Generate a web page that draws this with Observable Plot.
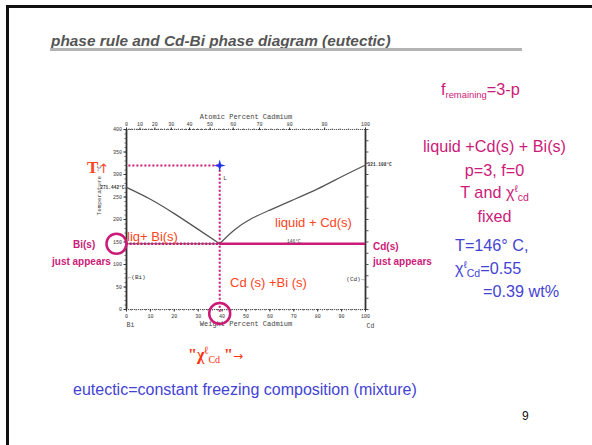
<!DOCTYPE html>
<html>
<head>
<meta charset="utf-8">
<script src="https://cdn.jsdelivr.net/npm/d3@7"></script>
<script src="https://cdn.jsdelivr.net/npm/@observablehq/plot@0.6"></script>
<style>
  html, body { margin: 0; padding: 0; background: #fff; }
  #slide { position: relative; width: 592px; height: 445px; overflow: hidden; }
  #slide > svg { position: absolute; left: 0; top: 0; }
</style>
</head>
<body>
<div id="slide"></div>
<script>
// Cd–Bi binary phase diagram (temperature vs weight percent cadmium)

// axis ticks
const weightTicks = [0, 10, 20, 30, 40, 50, 60, 70, 80, 90, 100];
const temperatureTicks = [0, 50, 100, 150, 200, 250, 300, 350, 400];
const atomicTicks = [0, 10, 20, 30, 40, 50, 60, 70, 80, 90, 100];

// molar masses used to place the atomic-percent scale on the weight axis
const MOLAR_CD = 112.41;
const MOLAR_BI = 208.98;
const atomicToWeight = (a) => (100 * a * MOLAR_CD) / (a * MOLAR_CD + (100 - a) * MOLAR_BI);

// liquidus curves (wt % Cd, °C)
const bismuthLiquidus = [
  {wt: 0, t: 271.4}, {wt: 10, t: 245}, {wt: 20, t: 213}, {wt: 30, t: 178}, {wt: 39, t: 146}
];
const cadmiumLiquidus = [
  {wt: 39, t: 146}, {wt: 45, t: 176}, {wt: 52, t: 201}, {wt: 60, t: 221},
  {wt: 69, t: 242}, {wt: 80, t: 268}, {wt: 90, t: 295}, {wt: 100, t: 321.1}
];

// invariant points and the state point being cooled
const eutecticTemp = 146;
const eutecticWeight = 39;
const stateTemp = 320;
const biMelting = 271.442;
const cdMelting = 321.108;

// small labels printed on the diagram
const diagramLabels = [
  {wt: 0, t: biMelting, text: "271.442°C", side: "left"},
  {wt: 100, t: cdMelting, text: "321.108°C", side: "right"},
  {wt: 70, t: 150, text: "146°C", side: "center"},
  {wt: 40.5, t: 293, text: "L", side: "start"},
  {wt: 0.5, t: 73, text: "←(Bi)", side: "start"},
  {wt: 99.5, t: 67, text: "(Cd)→", side: "end"}
];

const MAGENTA = "#cc1a78";
const ORANGE = "#ff4422";
const BLUE = "#4444d4";

// four-pointed marker for the state point
const sparkle = {
  draw(context, size) {
    const r = Math.sqrt(size) * 0.85;
    const k = r * 0.22;
    context.moveTo(0, -r);
    context.lineTo(k, -k);
    context.lineTo(r, 0);
    context.lineTo(k, k);
    context.lineTo(0, r);
    context.lineTo(-k, k);
    context.lineTo(-r, 0);
    context.lineTo(-k, -k);
    context.closePath();
  }
};

const atomicPositions = atomicTicks.map(atomicToWeight);
const atomicLabelAt = new Map(atomicPositions.map((w, i) => [w, String(atomicTicks[i])]));
const atomicMinor = d3.range(0, 101, 2).map(atomicToWeight);

const axisFont = {fontSize: 5, fill: "#333"};
const minorTicks = {tickFormat: () => "", label: null, stroke: "#666"};

const chart = Plot.plot({
  width: 592,
  height: 445,
  marginLeft: 126,
  marginRight: 227,
  marginTop: 129,
  marginBottom: 136,
  x: {domain: [0, 100], axis: null, label: null},
  y: {domain: [0, 400], axis: null, label: null},
  style: {background: "transparent", fontFamily: "'Liberation Mono', monospace", color: "#333", overflow: "visible"},
  marks: [
    // frame: dotted top/bottom scales, solid temperature axes
    Plot.ruleY([0, 400], {stroke: "#555", strokeWidth: 1.2, strokeDasharray: "1.2,0.8"}),
    Plot.ruleX([0, 100], {stroke: "#333", strokeWidth: 1.8}),

    // weight percent (bottom)
    Plot.axisX(d3.range(0, 101, 2), {anchor: "bottom", tickSize: 1.5, ...minorTicks}),
    Plot.axisX(weightTicks, {anchor: "bottom", tickSize: 2.5, tickPadding: 2, label: null, ...axisFont}),
    // atomic percent (top)
    Plot.axisX(atomicMinor, {anchor: "top", tickSize: 1.5, ...minorTicks}),
    Plot.axisX(atomicPositions, {anchor: "top", tickSize: 2.5, tickPadding: 1.5, label: null,
      tickFormat: (d) => atomicLabelAt.get(d), ...axisFont}),
    // temperature
    Plot.axisY(d3.range(0, 401, 10), {anchor: "left", tickSize: 1.5, ...minorTicks}),
    Plot.axisY(temperatureTicks, {anchor: "left", tickSize: 2.5, tickPadding: 2, label: null, ...axisFont}),
    Plot.axisY(d3.range(0, 401, 25), {anchor: "right", tickSize: 2.5, ...minorTicks, stroke: "#555"}),

    // axis titles
    Plot.text(["Atomic Percent Cadmium"], {x: 50, frameAnchor: "top", lineAnchor: "middle", dy: -13, fontSize: 7, fill: "#444"}),
    Plot.text(["Weight Percent Cadmium"], {x: 50, frameAnchor: "bottom", lineAnchor: "middle", dy: 14, fontSize: 7, fill: "#444"}),
    Plot.text(["Bi"], {x: 0, frameAnchor: "bottom", lineAnchor: "middle", dy: 15, textAnchor: "start", fontSize: 6.5, fill: "#444"}),
    Plot.text(["Cd"], {x: 100, frameAnchor: "bottom", lineAnchor: "middle", dy: 16, dx: 1, textAnchor: "start", fontSize: 6.5, fill: "#444"}),
    Plot.text(["Temperature °C"], {y: 209, frameAnchor: "left", dx: -27, rotate: -90, fontSize: 6, fill: "#444"}),

    // liquidus curves and eutectic isotherm
    Plot.line(bismuthLiquidus, {x: "wt", y: "t", curve: "natural", stroke: "#555", strokeWidth: 1.3}),
    Plot.line(cadmiumLiquidus, {x: "wt", y: "t", curve: "natural", stroke: "#555", strokeWidth: 1.3}),
    Plot.ruleY([eutecticTemp], {x1: 0, x2: 100, stroke: "#444", strokeWidth: 1}),
    Plot.ruleY([eutecticTemp], {x1: 0, x2: eutecticWeight, stroke: MAGENTA, strokeWidth: 2.4, strokeDasharray: "2,1.6"}),
    Plot.ruleY([eutecticTemp], {x1: eutecticWeight, x2: 100, stroke: MAGENTA, strokeWidth: 2.6}),

    // diagram labels
    Plot.text(diagramLabels.filter((d) => d.side === "left"), {x: "wt", y: "t", text: "text", textAnchor: "end", dx: -2, fontSize: 4.5, fontWeight: "bold", fill: "#333"}),
    Plot.text(diagramLabels.filter((d) => d.side === "right"), {x: "wt", y: "t", text: "text", textAnchor: "start", dx: 2, fontSize: 4.5, fontWeight: "bold", fill: "#333"}),
    Plot.text(diagramLabels.filter((d) => d.side === "center"), {x: "wt", y: "t", text: "text", fontSize: 4.5, fill: "#444"}),
    Plot.text(diagramLabels.filter((d) => d.side === "start"), {x: "wt", y: "t", text: "text", textAnchor: "start", fontSize: 6, fill: "#333"}),
    Plot.text(diagramLabels.filter((d) => d.side === "end"), {x: "wt", y: "t", text: "text", textAnchor: "end", fontSize: 6, fill: "#333"}),

    // cooling path from the state point down to the composition axis
    Plot.ruleY([stateTemp], {x1: 1, x2: eutecticWeight, stroke: MAGENTA, strokeWidth: 2, strokeDasharray: "2,2"}),
    Plot.ruleX([eutecticWeight], {y1: -6, y2: stateTemp, stroke: MAGENTA, strokeWidth: 2, strokeDasharray: "2,2"}),
    Plot.dot([{wt: eutecticWeight, t: stateTemp}], {x: "wt", y: "t", symbol: sparkle, r: 4, fill: "#2233ee", stroke: "none"}),

    // highlighted points: Bi(s) appears at the isotherm, eutectic composition on the axis
    Plot.dot([{wt: -4.2, t: eutecticTemp}], {x: "wt", y: "t", r: 10, stroke: MAGENTA, strokeWidth: 2.5, fill: "none"}),
    Plot.dot([{wt: eutecticWeight, t: -9}], {x: "wt", y: "t", r: 10.5, stroke: MAGENTA, strokeWidth: 2.5, fill: "none"})
  ]
});

const slide = document.getElementById("slide");
slide.appendChild(chart);

// slide text around the diagram
const ns = "http://www.w3.org/2000/svg";
const overlay = document.createElementNS(ns, "svg");
overlay.setAttribute("width", 592);
overlay.setAttribute("height", 445);
overlay.setAttribute("font-family", "'Liberation Sans', Arial, sans-serif");
overlay.innerHTML = `
  <rect x="6" y="5" width="3" height="440" fill="#111"/>
  <rect x="6" y="5" width="586" height="3" fill="#111"/>

  <text x="51" y="45.5" font-size="15.4" font-weight="bold" font-style="italic" fill="#555">phase rule and Cd-Bi phase diagram (eutectic)</text>
  <rect x="50" y="48" width="472" height="3" fill="#b3b3b3"/>

  <text x="441" y="95" font-size="16.3" fill="${MAGENTA}">f<tspan font-size="9.4" dy="3">remaining</tspan><tspan dy="-3">=3-p</tspan></text>

  <g font-size="16.2" fill="${MAGENTA}" text-anchor="middle">
    <text x="494.5" y="152">liquid +Cd(s) + Bi(s)</text>
    <text x="494.5" y="176">p=3, f=0</text>
    <text x="494.5" y="198">T and χ<tspan font-size="10" dy="-6">ℓ</tspan><tspan font-size="10.5" dy="9">cd</tspan></text>
    <text x="494.5" y="222">fixed</text>
  </g>

  <g font-size="16.2" fill="${BLUE}">
    <text x="455" y="251">T=146° C,</text>
    <text x="455" y="274">χ<tspan font-size="10" dy="-6">ℓ</tspan><tspan font-size="10.5" dy="9">Cd</tspan><tspan dy="-3">=0.55</tspan></text>
    <text x="483" y="297">=0.39 wt%</text>
  </g>

  <g font-size="10" font-weight="bold" fill="${MAGENTA}">
    <text x="73" y="248">Bi(s)</text>
    <text x="52" y="264.5">just appears</text>
    <text x="373" y="250">Cd(s)</text>
    <text x="373" y="264.5">just appears</text>
  </g>

  <g font-size="13" fill="${ORANGE}">
    <text x="127" y="241">liq+ Bi(s)</text>
    <text x="275" y="227">liquid + Cd(s)</text>
    <text x="230" y="287">Cd (s) +Bi (s)</text>
  </g>

  <text x="87" y="172.5" font-family="'Liberation Serif', 'DejaVu Serif', serif" font-weight="bold" font-size="17" fill="${ORANGE}">T<tspan font-family="'DejaVu Sans', sans-serif" font-weight="normal" font-size="13">↑</tspan></text>

  <text x="188" y="360" font-family="'Liberation Serif', 'DejaVu Serif', serif" font-weight="bold" font-size="16" fill="#ff3311">"χ<tspan font-size="11" dy="-6">ℓ</tspan><tspan font-size="10" dy="9" font-weight="normal">Cd</tspan><tspan dy="-3"> "</tspan><tspan font-family="'DejaVu Sans', sans-serif" font-weight="normal" font-size="12">→</tspan></text>

  <text x="73" y="395" font-size="16" fill="${BLUE}">eutectic=constant freezing composition (mixture)</text>

  <text x="522" y="420" font-size="12" fill="#111">9</text>
`;
overlay.style.pointerEvents = "none";
slide.appendChild(overlay);
</script>
</body>
</html>
